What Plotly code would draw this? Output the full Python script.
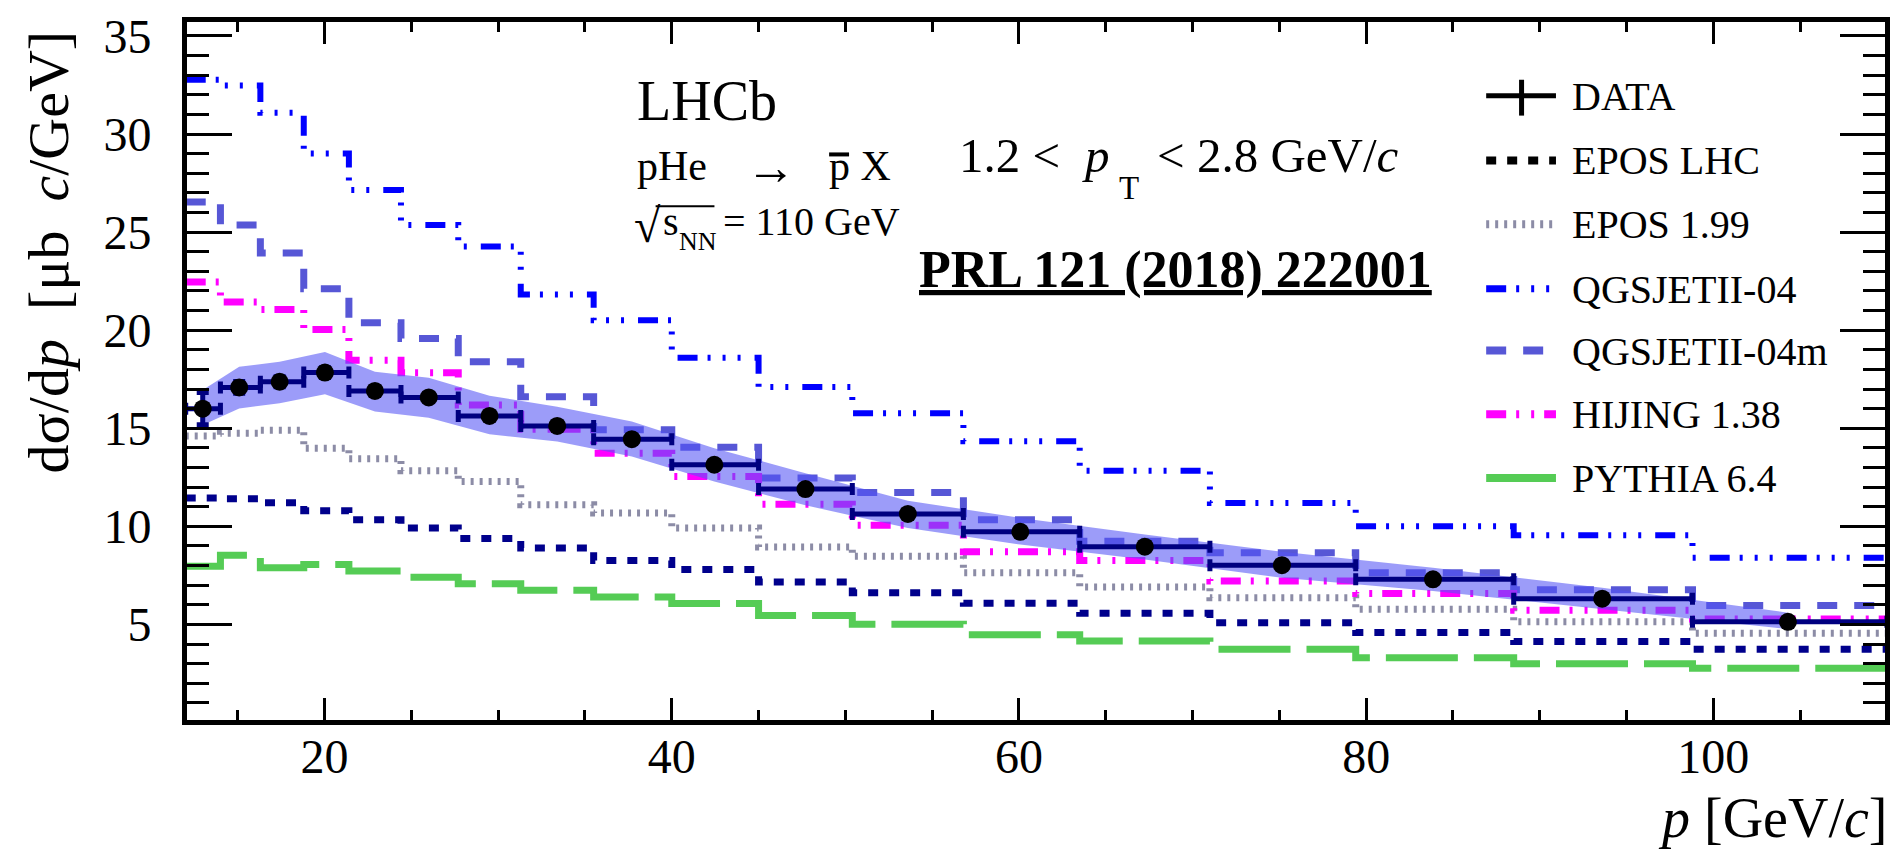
import plotly.graph_objects as go

# ---- data -------------------------------------------------------------
# momentum bin edges [GeV/c]
bin_edges = [12.0, 14.0, 16.3, 18.8, 21.4, 24.4, 27.7, 31.3, 35.5, 40.0,
             45.0, 50.4, 56.8, 63.5, 71.0, 79.4, 88.5, 98.8, 110.0]

# measured cross-section points
p_data = [12.98, 15.08, 17.41, 20.02, 22.9, 26.0, 29.5, 33.4, 37.7, 42.45,
          47.7, 53.6, 60.08, 67.25, 75.15, 83.85, 93.6, 104.3]
xsec_data = [16.0, 17.08, 17.37, 17.84, 16.9, 16.57, 15.63, 15.12, 14.44, 13.14,
             11.9, 10.63, 9.72, 8.96, 8.02, 7.30, 6.31, 5.13]
stat_err = [0.82, 0.3, 0.25, 0.25, 0.22, 0.2, 0.2, 0.18, 0.18, 0.16,
            0.15, 0.14, 0.13, 0.12, 0.11, 0.1, 0.1, 0.09]
band_lo = [15.17, 16.01, 16.27, 16.73, 15.85, 15.54, 14.69, 14.32, 13.56, 12.29,
           11.07, 9.92, 9.07, 8.31, 7.38, 6.70, 5.77, 4.76]
band_hi = [16.95, 18.13, 18.39, 18.89, 17.88, 17.57, 16.66, 16.10, 15.34, 13.98,
           12.71, 11.31, 10.43, 9.58, 8.70, 7.89, 6.87, 5.60]

# generator predictions, one value per bin
epos_lhc = [11.44, 11.40, 11.20, 10.80, 10.34, 9.92, 9.38, 8.90, 8.26, 7.80,
            7.16, 6.62, 6.08, 5.57, 5.09, 4.59, 4.13, 3.74]
epos_199 = [14.60, 14.75, 14.90, 13.98, 13.44, 12.83, 12.29, 11.10, 10.68, 9.92,
            8.95, 8.48, 7.63, 6.91, 6.36, 5.77, 5.14, 4.55]
qgsjet_04 = [32.77, 32.47, 31.08, 29.00, 27.14, 25.36, 24.26, 21.82, 20.50, 18.59,
             17.10, 15.76, 14.34, 12.83, 11.19, 10.00, 9.55, 8.40]
qgsjet_04m = [26.54, 25.36, 23.94, 22.11, 20.38, 19.57, 18.39, 16.61, 14.92, 14.03,
              12.46, 11.73, 10.34, 9.24, 8.65, 7.63, 6.77, 5.97]
hijing = [22.45, 21.43, 21.06, 20.04, 18.47, 17.83, 16.19, 14.95, 13.73, 12.54,
          11.12, 10.06, 8.70, 8.26, 7.21, 6.57, 5.72, 5.27]
pythia = [7.97, 8.52, 7.89, 8.06, 7.72, 7.41, 7.07, 6.74, 6.40, 6.06,
          5.45, 5.01, 4.47, 4.16, 3.74, 3.30, 3.00, 2.76]

x_ticks = [20, 40, 60, 80, 100]
y_ticks = [5, 10, 15, 20, 25, 30, 35]

# ---- geometry helpers ---------------------------------------------------
FONT = "Liberation Serif"
W, H = 1900, 849
ML, MR, MT, MB = 187, 10, 19, 129
X_RANGE = [12.074, 109.89]
Y_RANGE = [0.127, 35.71]


def fx(px):
    return (px - ML) / (W - ML - MR)


def fy(py):
    return (H - MB - py) / (H - MT - MB)


def mid(baseline, size):
    # vertical centre of a text line box given its baseline
    return fy(baseline - 0.3375 * size)


# name, values, plot colour, legend colour, dash, width
models = [
    ("EPOS LHC", epos_lhc, "#00008c", "#000000", "10px,11px", 7),
    ("EPOS 1.99", epos_199, "#8c8ca6", "#8c8ca6", "3px,6px", 7),
    ("QGSJETII-04", qgsjet_04, "#0000ff", "#0000ff",
     "20px,10px,3px,12px,3px,12px,3px,14px", 6),
    ("QGSJETII-04m", qgsjet_04m, "#5757d6", "#5757d6", "20px,17px", 7),
    ("HIJING 1.38", hijing, "#ff00ff", "#ff00ff", "20px,10px,3px,12px,3px,10px", 7),
    ("PYTHIA 6.4", pythia, "#55cc55", "#55cc55", "72px,16px", 7),
]

fig = go.Figure()

for name, vals, color, _, dash, width in models:
    fig.add_trace(go.Scatter(
        x=bin_edges, y=list(vals) + [vals[-1]], mode="lines", name=name,
        line=dict(color=color, width=width, dash=dash, shape="hv"),
        showlegend=False, hoverinfo="skip"))

# total uncertainty band
fig.add_trace(go.Scatter(
    x=p_data + p_data[::-1], y=band_hi + band_lo[::-1],
    mode="lines", fill="toself", fillcolor="rgba(85,85,245,0.58)",
    line=dict(width=0), showlegend=False, hoverinfo="skip"))

xerr_minus = [p - lo for p, lo in zip(p_data, bin_edges[:-1])]
xerr_plus = [hi - p for p, hi in zip(p_data, bin_edges[1:])]
fig.add_trace(go.Scatter(
    x=p_data, y=xsec_data, mode="markers", name="DATA",
    marker=dict(color="black", size=18),
    error_x=dict(type="data", symmetric=False, array=xerr_plus,
                 arrayminus=xerr_minus, color="#000080", thickness=5, width=6),
    error_y=dict(type="data", array=stat_err, color="#000080",
                 thickness=5, width=6),
    showlegend=False))

axis_common = dict(
    showline=True, linewidth=5, linecolor="black", mirror="ticks",
    ticks="inside", tickwidth=3, tickcolor="black", showgrid=False,
    zeroline=False, tickfont=dict(family=FONT, size=48, color="black"),
)

fig.update_layout(
    width=W, height=H, paper_bgcolor="white", plot_bgcolor="white",
    margin=dict(l=ML, r=MR, t=MT, b=MB, pad=0),
    showlegend=False,
    xaxis=dict(range=X_RANGE, tickvals=x_ticks, ticklen=22,
               ticklabelstandoff=-10,
               minor=dict(ticks="inside", ticklen=10, tickwidth=3,
                          tickcolor="black", dtick=5, tick0=0, showgrid=False),
               **axis_common),
    yaxis=dict(range=Y_RANGE, tickvals=y_ticks, ticklen=45,
               ticklabelstandoff=21,
               minor=dict(ticks="inside", ticklen=22, tickwidth=3,
                          tickcolor="black", dtick=1, tick0=0, showgrid=False),
               **axis_common),
)

ann = []
shapes = []


def text(t, px, baseline, size, anchor="left", **kw):
    ann.append(dict(text=t, x=fx(px), y=mid(baseline, size), xref="paper",
                    yref="paper", xanchor=anchor, yanchor="middle",
                    showarrow=False,
                    font=dict(family=FONT, size=size, color="black"), **kw))


def hline(x0, x1, y, color="black", width=2, dash="solid"):
    shapes.append(dict(type="line", xref="paper", yref="paper",
                       x0=fx(x0), x1=fx(x1), y0=fy(y), y1=fy(y),
                       line=dict(color=color, width=width, dash=dash)))


# axis titles
ann.append(dict(text="dσ/d<i>p</i>  [μb  <i>c</i>/GeV]", x=fx(48), y=fy(250),
                xref="paper", yref="paper", xanchor="center", yanchor="middle",
                textangle=-90, showarrow=False,
                font=dict(family=FONT, size=58, color="black")))
text("<i>p</i> [GeV/<i>c</i>]", 1894, 837, 56, anchor="right")

# experiment labels
text("LHCb", 636, 117, 56)
text("pHe", 636, 178, 42)
text("→", 773, 181, 50, anchor="center")
text("p X", 829, 178, 42)
hline(831, 851, 152, width=4)
text("√", 633, 240, 48)
text("s", 662, 233, 40)
text("NN", 678, 248, 26)
text("= 110 GeV", 723, 233, 40)
hline(657, 716, 204, width=2)

text("1.2 <", 959, 170, 49)
text("<i>p</i>", 1083, 170, 49)
text("T", 1120, 197, 33)
text("< 2.8 GeV/<i>c</i>", 1158, 170, 49)

text("<b><u>PRL 121 (2018) 222001</u></b>", 919, 286, 52)

# legend
leg_y = [93, 158, 222, 287, 349, 413, 477]
lx0, lx1, ltx = 1490, 1560, 1574
hline(lx0, lx1, leg_y[0], width=5)
shapes.append(dict(type="line", xref="paper", yref="paper",
                   x0=fx(1525.5), x1=fx(1525.5), y0=fy(77), y1=fy(113),
                   line=dict(color="black", width=5)))
text("DATA", ltx, leg_y[0] + 14, 40)
for (name, _, _, lcolor, dash, width), yy in zip(models, leg_y[1:]):
    hline(lx0, lx1, yy, color=lcolor, width=width + 1, dash=dash)
    text(name, ltx, yy + 14, 40)

fig.update_layout(annotations=ann, shapes=shapes)

fig.write_html("out.html")
